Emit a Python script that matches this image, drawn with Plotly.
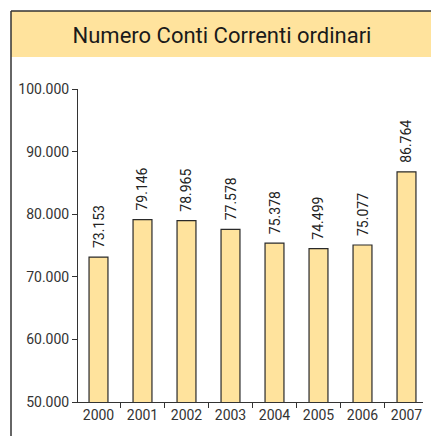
import plotly.graph_objects as go

years = ['2000', '2001', '2002', '2003', '2004', '2005', '2006', '2007']
accounts = [73153, 79146, 78965, 77578, 75378, 74499, 75077, 86764]
y_ticks = [50000, 60000, 70000, 80000, 90000, 100000]

W, H = 431, 436
L, R, T, B = 78, 8, 89, 34
pw, ph = W - L - R, H - T - B


def px_x(x):
    return (x - L) / pw


def px_y(y):
    return (H - B - y) / ph


fig = go.Figure(go.Bar(
    x=years,
    y=accounts,
    width=0.43,
    marker=dict(color='#FFE39D', line=dict(color='#2a2a2a', width=1.2)),
    hoverinfo='x+y',
))

# value labels, rotated, a bit above each bar
# (category axis: annotation x given as category index)
for i, v in enumerate(accounts):
    fig.add_annotation(
        x=i, y=v, text=f'{v:,}'.replace(',', '.'),
        textangle=-90, showarrow=False,
        xanchor='center', yanchor='bottom', yshift=7,
        font=dict(family='Roboto', size=14, color='#222'),
    )

fig.update_layout(
    width=W, height=H,
    margin=dict(l=L, r=R, t=T, b=B),
    separators=',.',
    paper_bgcolor='white',
    plot_bgcolor='white',
    showlegend=False,
    title=dict(
        text='Numero Conti Correnti ordinari',
        x=222 / W, xanchor='center',
        y=1 - 35 / H, yanchor='middle', yref='container',
        font=dict(family='Roboto', size=22, color='#1a1a1a'),
    ),
    xaxis=dict(
        type='category',
        range=[-0.466, 7.375],
        showline=True, linecolor='#333', linewidth=1,
        ticks='outside', ticklen=5, tickcolor='#333', tickson='boundaries',
        tickfont=dict(family='Roboto', size=14, color='#333'),
        showgrid=False, fixedrange=True,
    ),
    yaxis=dict(
        range=[50000, 100000],
        tickvals=y_ticks, tickformat=',d',
        showline=True, linecolor='#333', linewidth=1,
        ticks='outside', ticklen=5, tickcolor='#333',
        tickfont=dict(family='Roboto', size=14, color='#333'),
        showgrid=False, zeroline=False, fixedrange=True,
    ),
    shapes=[
        # header band
        dict(type='rect', xref='paper', yref='paper',
             x0=px_x(11), x1=px_x(W + 5), y0=px_y(57), y1=px_y(11),
             fillcolor='#FFE39D', line=dict(width=0), layer='below'),
        # frame: top and left
        dict(type='line', xref='paper', yref='paper',
             x0=px_x(11), x1=px_x(W + 5), y0=px_y(11), y1=px_y(11),
             line=dict(color='#333', width=1.5)),
        dict(type='line', xref='paper', yref='paper',
             x0=px_x(11), x1=px_x(11), y0=px_y(11), y1=px_y(H + 5),
             line=dict(color='#333', width=1.5)),
    ],
)

# drop the default body margin so the figure sits flush in the window
fig.write_html(
    'out.html',
    config={'displayModeBar': False},
    post_script="document.body.style.margin='0';document.body.style.overflow='hidden';",
)
